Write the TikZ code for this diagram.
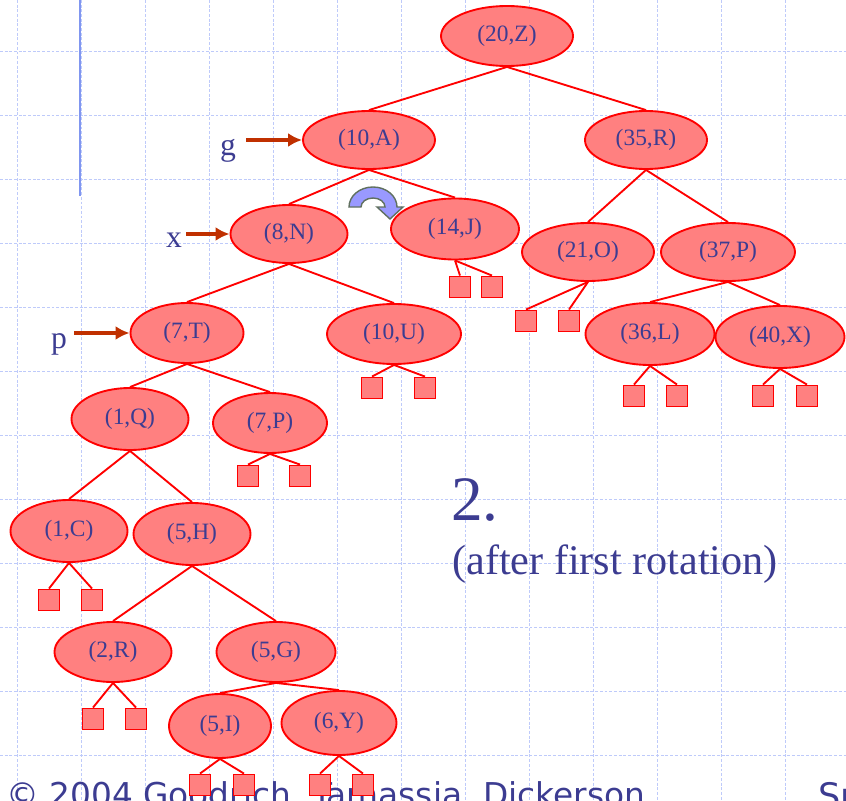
\documentclass[tikz,border=0pt]{standalone}
\usepackage{fontspec}
\setmainfont{Liberation Serif}
\newfontfamily\footfont{DejaVu Sans}
\usetikzlibrary{arrows.meta,shapes.geometric}

\definecolor{keyfill}{RGB}{255,128,128}
\definecolor{keyline}{RGB}{255,0,0}
\definecolor{ink}{RGB}{60,60,145}
\definecolor{ptr}{RGB}{192,48,0}
\definecolor{gridc}{RGB}{190,202,250}
\definecolor{barc}{RGB}{128,150,240}
\definecolor{turnfill}{RGB}{153,153,255}
\definecolor{turnline}{RGB}{96,112,96}

\begin{document}
\begin{tikzpicture}[x=0.3mm,y=-0.3mm,>=Latex,
  pairnode/.style 2 args={ellipse,draw=keyline,line width=1.6pt,fill=keyfill,
    inner sep=0pt,minimum width=#1*0.3mm,minimum height=#2*0.3mm,
    text=ink,font=\fontsize{20}{20}\selectfont},
  leafbox/.style={rectangle,draw=keyline,line width=1.6pt,fill=keyfill,
    inner sep=0pt,minimum size=21*0.3mm},
  branch/.style={keyline,line width=1.6pt},
  gridline/.style={gridc,line width=0.8pt,dash pattern=on 2.5pt off 1.5pt},
  ptrlabel/.style={text=ink,inner sep=0pt,anchor=base west,font=\fontsize{27}{27}\selectfont},
  pointer/.style={{Latex[length=12pt,width=12pt]}-,ptr,line width=2.6pt}]
  \useasboundingbox (0,0) rectangle (846,801);
  \clip (0,0) rectangle (846,801);

  % background
  \foreach \gx in {17,81,...,849} \draw[gridline] (\gx,0) -- (\gx,801);
  \foreach \gy in {51,115,...,755} \draw[gridline] (0,\gy) -- (846,\gy);
  \draw[barc,line width=1.3pt] (80,0) -- (80,196);

  \node[text=ink,inner sep=0pt,anchor=base west,font=\footfont\fontsize{28}{28}\selectfont]
    (foot) at (6,806) {© 2004 Goodrich, Tamassia, Dickerson};
  \node[text=ink,inner sep=0pt,anchor=base west,font=\footfont\fontsize{30}{30}\selectfont]
    (title) at (818,808) {Sp};

  % tree
  \node[pairnode={132}{60}] (z20) at (507,36) {(20,Z)};
  \node[pairnode={132}{58}] (a10) at (369,140) {(10,A)};
  \node[pairnode={122}{58}] (r35) at (646,140) {(35,R)};
  \node[pairnode={117}{58}] (n8) at (289,234) {(8,N)};
  \node[pairnode={128}{61}] (j14) at (455,229) {(14,J)};
  \node[pairnode={132}{58}] (o21) at (588,252) {(21,O)};
  \node[pairnode={134}{58}] (p37) at (728,252) {(37,P)};
  \node[pairnode={113}{60}] (t7) at (187,333) {(7,T)};
  \node[pairnode={134}{60}] (u10) at (394,334) {(10,U)};
  \node[pairnode={129}{62}] (l36) at (650,334) {(36,L)};
  \node[pairnode={129}{62}] (x40) at (780,337) {(40,X)};
  \node[pairnode={117}{62}] (q1) at (130,419) {(1,Q)};
  \node[pairnode={114}{60}] (p7) at (270,423) {(7,P)};
  \node[pairnode={117}{62}] (c1) at (69,531) {(1,C)};
  \node[pairnode={117}{62}] (h5) at (192,534) {(5,H)};
  \node[pairnode={117}{60}] (r2) at (113,652) {(2,R)};
  \node[pairnode={119}{60}] (g5) at (276,652) {(5,G)};
  \node[pairnode={102}{64}] (i5) at (220,726) {(5,I)};
  \node[pairnode={115}{64}] (y6) at (339,723) {(6,Y)};

  \foreach \u/\v in {z20/a10,z20/r35,a10/n8,a10/j14,r35/o21,r35/p37,n8/t7,n8/u10,
      p37/l36,p37/x40,t7/q1,t7/p7,q1/c1,q1/h5,h5/r2,h5/g5,g5/i5,g5/y6}
    \draw[branch] (\u.south) -- (\v.north);

  \foreach \u/\a/\b/\y in {j14/460/492/287,o21/526/569/321,u10/372/425/388,
      l36/634/677/396,x40/763/807/396,p7/248/300/476,c1/49/92/600,
      r2/93/136/719,i5/200/244/785,y6/320/363/785} {
    \node[leafbox] (\u-l) at (\a,\y) {};
    \node[leafbox] (\u-r) at (\b,\y) {};
    \draw[branch] (\u.south) -- (\u-l.north);
    \draw[branch] (\u.south) -- (\u-r.north);
  }

  % pointers
  \node[ptrlabel] (glbl) at (220,155) {g};
  \node[ptrlabel] (xlbl) at (166,247) {x};
  \node[ptrlabel] (plbl) at (51,348) {p};
  \draw[pointer] (a10.west) -- ++(-56,0);
  \draw[pointer] (n8.west) -- ++(-44,0);
  \draw[pointer] (t7.west) -- ++(-56,0);

  % rotation mark
  \filldraw[fill=turnfill,draw=turnline,line width=1.2pt]
    (349,207) arc[start angle=180,end angle=360,x radius=24,y radius=20]
    -- (403,207) -- (390,219) -- (377,207) -- (385,207)
    arc[start angle=360,end angle=180,x radius=12,y radius=9] -- cycle;

  \node[text=ink,inner sep=0pt,anchor=base west,font=\fontsize{54}{54}\selectfont]
    (step2) at (451,520) {2.};
  \node[text=ink,inner sep=0pt,anchor=base west,font=\fontsize{36}{36}\selectfont]
    (note) at (452,574) {(after first rotation)};
\end{tikzpicture}
\end{document}
